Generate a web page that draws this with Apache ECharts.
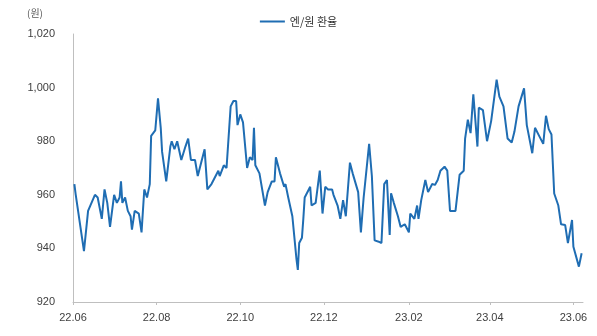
<!DOCTYPE html>
<html>
<head>
<meta charset="utf-8">
<script src="https://cdn.jsdelivr.net/npm/echarts@6/dist/echarts.min.js"></script>
<style>
  html, body { margin: 0; padding: 0; background: #fff; }
  #chart { width: 597px; height: 336px; }
</style>
</head>
<body>
<div id="chart"></div>
<script>
// 엔/원 환율 (100엔당 원), 그림에서 읽은 값
var dates = [
  '2022-06-02','2022-06-03','2022-06-09','2022-06-12','2022-06-17','2022-06-19','2022-06-22','2022-06-24','2022-06-26','2022-06-28',
  '2022-07-01','2022-07-03','2022-07-05','2022-07-06','2022-07-07','2022-07-09','2022-07-11','2022-07-13','2022-07-14','2022-07-16',
  '2022-07-19','2022-07-21','2022-07-23','2022-07-25','2022-07-27','2022-07-28','2022-07-31','2022-08-02','2022-08-04','2022-08-05',
  '2022-08-08','2022-08-11','2022-08-12','2022-08-14','2022-08-16','2022-08-19','2022-08-22','2022-08-24','2022-08-26','2022-08-29',
  '2022-08-31','2022-09-02','2022-09-05','2022-09-07','2022-09-10','2022-09-12','2022-09-15','2022-09-16','2022-09-19','2022-09-21',
  '2022-09-24','2022-09-26','2022-09-28','2022-09-29','2022-10-01','2022-10-03','2022-10-06','2022-10-08','2022-10-10','2022-10-11',
  '2022-10-12','2022-10-15','2022-10-19','2022-10-21','2022-10-24','2022-10-26','2022-10-27','2022-10-30','2022-11-02','2022-11-03',
  '2022-11-05','2022-11-08','2022-11-11','2022-11-12','2022-11-13','2022-11-15','2022-11-16','2022-11-17','2022-11-20','2022-11-21',
  '2022-11-22','2022-11-25','2022-11-28','2022-11-30','2022-12-02','2022-12-04','2022-12-07','2022-12-08','2022-12-11','2022-12-13',
  '2022-12-15','2022-12-17','2022-12-20','2022-12-22','2022-12-26','2022-12-28','2022-12-30','2023-01-03','2023-01-05','2023-01-07',
  '2023-01-10','2023-01-12','2023-01-14','2023-01-16','2023-01-18','2023-01-19','2023-01-21','2023-01-24','2023-01-26','2023-01-29',
  '2023-02-01','2023-02-02','2023-02-05','2023-02-07','2023-02-08','2023-02-10','2023-02-13','2023-02-15','2023-02-18','2023-02-20',
  '2023-02-22','2023-02-24','2023-02-27','2023-03-01','2023-03-03','2023-03-07','2023-03-10','2023-03-13','2023-03-14','2023-03-16',
  '2023-03-18','2023-03-20','2023-03-23','2023-03-24','2023-03-27','2023-03-30','2023-04-02','2023-04-06','2023-04-08','2023-04-11',
  '2023-04-14','2023-04-17','2023-04-19','2023-04-22','2023-04-26','2023-04-28','2023-05-02','2023-05-04','2023-05-07','2023-05-10',
  '2023-05-12','2023-05-14','2023-05-16','2023-05-18','2023-05-21','2023-05-23','2023-05-26','2023-05-28','2023-05-31','2023-06-01',
  '2023-06-05','2023-06-07'
];
var rates = [
  964, 960, 939, 954, 960, 959, 951, 962, 957, 948,
  960, 957, 959, 965, 957, 959, 954, 952, 947, 954,
  953, 946, 962, 959, 964, 982, 984, 996, 985, 976,
  965, 978, 980, 977, 980, 973, 978, 981, 973, 973,
  967, 971, 977, 962, 964, 966, 969, 967, 971, 970,
  993, 995, 995, 986, 990, 987, 970, 974, 973, 985,
  971, 968, 956, 961, 965, 965, 974, 968, 963, 964,
  959, 952, 936, 932, 942, 944, 951, 959, 962, 963,
  956, 957, 969, 953, 963, 962, 962, 960, 956, 951,
  958, 952, 972, 968, 961, 946, 959, 979, 967, 943,
  942.5, 942, 964, 965.5, 945, 960.6, 957, 952, 948, 949,
  946, 953, 951, 956, 951, 958, 965.5, 961, 964, 963.7,
  965.5, 969, 970.5, 969, 954, 954, 967.5, 969, 981, 988,
  983, 997.5, 978, 992.5, 991.6, 980, 987.5, 1003, 996.6, 993,
  981, 979.5, 983.6, 993, 999.7, 986, 975.5, 985, 982, 979,
  989.5, 984.5, 982.5, 960.5, 956, 949, 948.7, 942, 950.6, 940.6,
  933.2, 938.2
];
var tickDates = ['2022-06-01','2022-08-01','2022-10-01','2022-12-01','2023-02-01','2023-04-01','2023-06-01'];
var yTicks = [920, 940, 960, 980, 1000, 1020];

function toTime(d) { return +new Date(d + 'T00:00:00Z'); }

var seriesData = dates.map(function (d, i) { return [toTime(d), rates[i]]; });
var tickValues = tickDates.map(toTime);

var chart = echarts.init(document.getElementById('chart'));
var labelFont = 'Liberation Sans, DejaVu Sans, sans-serif';

var option = {
  animation: false,
  backgroundColor: '#ffffff',
  grid: { left: 73, right: 14, top: 34, bottom: 34, containLabel: false },
  legend: {
    top: 11,
    left: 'center',
    icon: 'rect',
    itemWidth: 25,
    itemHeight: 2,
    itemGap: 6,
    textStyle: { color: '#333', fontSize: 11, fontFamily: 'Noto Sans CJK KR, sans-serif' },
    data: ['엔/원 환율']
  },
  graphic: [{
    type: 'text',
    left: 27,
    top: 8,
    style: { text: '(원)', fill: '#595959', fontSize: 10, fontFamily: 'Noto Sans CJK KR, sans-serif' }
  }],
  xAxis: {
    type: 'value',
    min: toTime('2022-06-01'),
    max: toTime('2023-06-08'),
    axisLine: { lineStyle: { color: '#bfbfbf', width: 1 } },
    axisTick: { show: true, length: 3, lineStyle: { color: '#bfbfbf' }, customValues: tickValues },
    axisLabel: {
      color: '#404040',
      fontSize: 11,
      fontFamily: labelFont,
      margin: 10,
      customValues: tickValues,
      formatter: function (v) {
        var d = new Date(v);
        var yy = String(d.getUTCFullYear()).slice(2);
        var mm = ('0' + (d.getUTCMonth() + 1)).slice(-2);
        return yy + '.' + mm;
      }
    },
    splitLine: { show: false }
  },
  yAxis: {
    type: 'value',
    min: yTicks[0],
    max: yTicks[yTicks.length - 1],
    interval: 20,
    axisLine: { show: true, lineStyle: { color: '#bfbfbf', width: 1 } },
    axisTick: { show: false },
    axisLabel: {
      color: '#404040',
      fontSize: 11,
      fontFamily: labelFont,
      margin: 18,
      formatter: function (v) { return v.toLocaleString('en-US'); }
    },
    splitLine: { show: false }
  },
  series: [{
    name: '엔/원 환율',
    type: 'line',
    data: seriesData,
    symbol: 'none',
    smooth: false,
    lineStyle: { color: '#1f6db3', width: 2 },
    itemStyle: { color: '#1f6db3' }
  }]
};

chart.setOption(option);
</script>
</body>
</html>
